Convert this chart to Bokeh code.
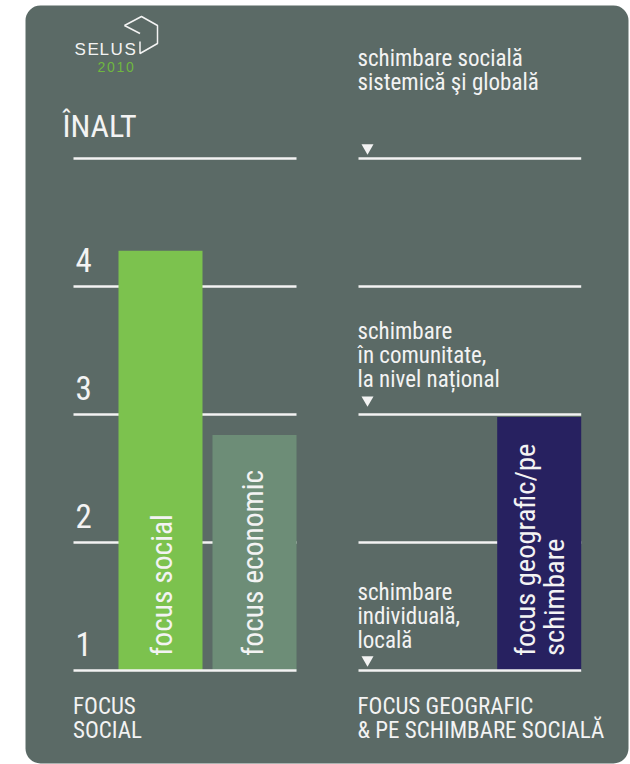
import math
from bokeh.plotting import figure
from bokeh.models import BoxAnnotation
from bokeh.core.properties import value
from bokeh.embed import file_html
from bokeh.resources import INLINE

# ---------------- data ----------------
levels = [1, 2, 3, 4, 5]
tick_values = [1, 2, 3, 4]
tick_labels = ["1", "2", "3", "4"]
scale_title = "ÎNALT"

bar_names = ["focus social", "focus economic", "focus geografic/pe"]
bar_label_lines = [["focus social"], ["focus economic"], ["focus geografic/pe", "schimbare"]]
bar_values = [4.28, 2.84, 2.98]
bar_colors = ["#7cc24e", "#6d8d77", "#272160"]

marker_levels = [5, 3, 1]
marker_labels = [
    ["schimbare socială", "sistemică şi globală"],
    ["schimbare", "în comunitate,", "la nivel național"],
    ["schimbare", "individuală,", "locală"],
]
left_footer = ["FOCUS", "SOCIAL"]
right_footer = ["FOCUS GEOGRAFIC", "& PE SCHIMBARE SOCIALĂ"]
logo_name = "SELUS"
logo_year = "2010"

# ---------------- styling ----------------
W, H = 630, 764
PX_PER_UNIT = 128.0
BASE_PX = 670.0          # pixel row of level 1
CARD = "#5b6a66"
WHITE = "#f3f3f3"
FONT = "Roboto Condensed, Roboto"
K = 0.375                # empirical baseline correction (em)


def corr(fs):
    return K * fs - (3.5 if fs < 26 else 0.0)


def Y(py):
    """pixel row -> data value"""
    return 1 + (BASE_PX - py) / PX_PER_UNIT


p = figure(width=W, height=H, x_range=(0, W), y_range=(Y(H), Y(0)),
           x_axis_type=None, y_axis_type=None, min_border=0,
           toolbar_location=None, output_backend="svg")
p.background_fill_color = "white"
p.border_fill_color = "white"
p.outline_line_color = None

# card
p.add_layout(BoxAnnotation(left=25, right=628, top=Y(5), bottom=Y(763),
                           fill_color=CARD, fill_alpha=1.0, line_color=None,
                           border_radius=15, level="underlay"))

LX0, LX1 = 73, 296
RX0, RX1 = 358, 580.7

upper = levels[1:]
p.segment(x0=[LX0] * len(upper), y0=upper, x1=[LX1] * len(upper), y1=upper,
          line_color=WHITE, line_width=2.5)
p.segment(x0=[RX0] * len(upper), y0=upper, x1=[RX1] * len(upper), y1=upper,
          line_color=WHITE, line_width=2.5)

# bars
bar_x = [160, 254, 538.7]
p.vbar(x=bar_x, width=84, bottom=levels[0], top=bar_values,
       fill_color=bar_colors, line_color=None)

# baseline over the bars
p.segment(x0=[LX0, RX0], y0=[levels[0]] * 2, x1=[LX1, RX1], y1=[levels[0]] * 2,
          line_color=WHITE, line_width=2.5)


def htext(x, y, txt, fs, font=FONT, color=WHITE, yoff=0.0):
    p.text(x=[x], y=[y], text=[txt], y_offset=yoff - corr(fs),
           text_align="left", text_baseline="alphabetic",
           text_font=value(font), text_font_size=f"{fs}px", text_color=color)


# bar labels (rotated)
line_offsets = [[12.3], [9.3], [-2.7, 26.3]]
bar_font_sizes = [29.5, 29.5, 28.5]
for xc, lines, offs, fs in zip(bar_x, bar_label_lines, line_offsets, bar_font_sizes):
    for txt, off in zip(lines, offs):
        p.text(x=[xc], y=[levels[0]], text=[txt], angle=math.pi / 2,
               x_offset=off - corr(fs), y_offset=-14.5,
               text_align="left", text_baseline="alphabetic",
               text_font=value(FONT), text_font_size=f"{fs}px", text_color=WHITE)

# tick labels
TFS = 33
p.text(x=[75] * len(tick_values), y=tick_values, text=tick_labels,
       y_offset=-14 - corr(TFS), text_align="left", text_baseline="alphabetic",
       text_font=value(FONT), text_font_size=f"{TFS}px", text_color=WHITE)

# title
htext(62, Y(137), scale_title, 32)

# right-side markers and labels
tri_above = [10.8, 14.6, 10.7]
first_baseline_above = [95, 78, 73]
p.scatter(x=[367] * len(marker_levels),
          y=[lv + a / PX_PER_UNIT for lv, a in zip(marker_levels, tri_above)],
          marker="inverted_triangle", size=12, fill_color=WHITE, line_color=None)
for lv, lines, fa in zip(marker_levels, marker_labels, first_baseline_above):
    for i, txt in enumerate(lines):
        htext(357, lv, txt, 23, yoff=-fa + 24 * i)

# footers
for i, txt in enumerate(left_footer):
    htext(72.5, Y(711 + 24 * i), txt, 23)
for i, txt in enumerate(right_footer):
    htext(357, Y(711 + 24 * i), txt, 23)

# logo (letter-spaced)
for ch, x in zip(logo_name, [74, 87, 99, 110, 124]):
    htext(x, Y(52), ch, 17, font="Liberation Sans")
for ch, x in zip(logo_year, [97, 106.5, 116, 125.5]):
    htext(x, Y(68), ch, 14, font="Liberation Sans", color="#6fb83f")
cube_x = [[124, 141, 157, 157, 139.5, 139.5], [124, 139.5]]
cube_y = [[Y(v) for v in (25, 16, 25, 43, 53, 41)], [Y(25), Y(33)]]
p.multi_line(xs=cube_x, ys=cube_y, line_color=WHITE, line_width=1.5)

open("out.html", "w").write(file_html(p, INLINE))
